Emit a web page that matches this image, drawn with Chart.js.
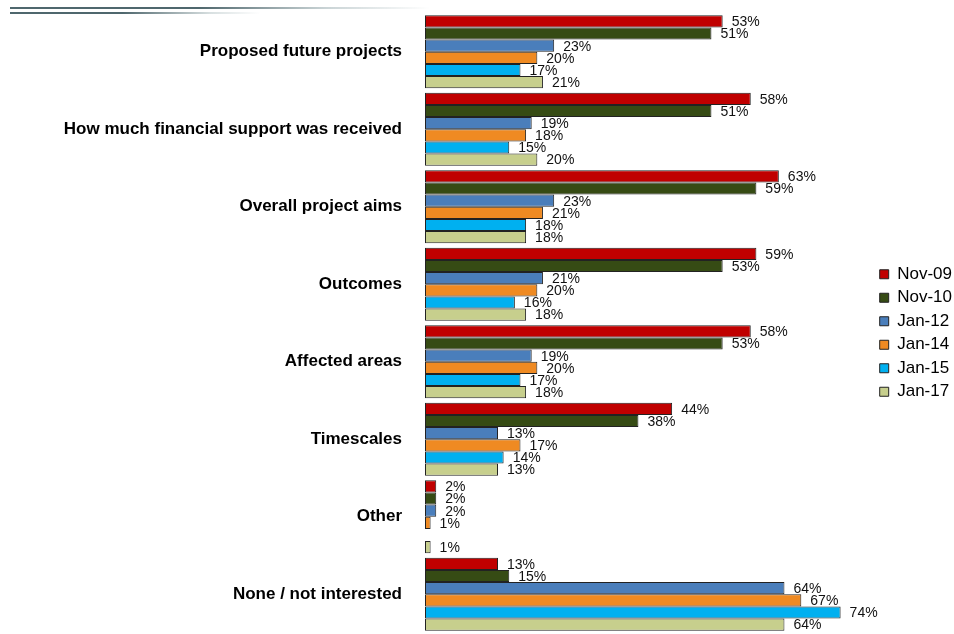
<!DOCTYPE html>
<html>
<head>
<meta charset="utf-8">
<script src="https://cdn.jsdelivr.net/npm/chart.js@4"></script>
<style>
  html, body { margin: 0; padding: 0; background: #fff; }
  #wrap { position: relative; width: 954px; height: 634px; }
  canvas { display: block; }
  .rule { position: absolute; left: 10px; height: 2px; }
  #rule1 { top: 7px; width: 420px; background: linear-gradient(to right, #4f676d 0%, #4f676d 45%, #c9d3d5 75%, rgba(255,255,255,0) 100%); }
  #rule2 { top: 12px; width: 250px; background: linear-gradient(to right, #4f676d 0%, #4f676d 45%, #d7dfe0 80%, rgba(255,255,255,0) 100%); }
</style>
</head>
<body>
<div id="wrap">
  <canvas id="chart" width="954" height="634"></canvas>
  <div class="rule" id="rule1"></div>
  <div class="rule" id="rule2"></div>
</div>
<script>
const categories = [
    "Proposed future projects",
    "How much financial support was received",
    "Overall project aims",
    "Outcomes",
    "Affected areas",
    "Timescales",
    "Other",
    "None / not interested"
];
const nov09 = [53, 58, 63, 59, 58, 44, 2, 13];
const nov10 = [51, 51, 59, 53, 53, 38, 2, 15];
const jan12 = [23, 19, 23, 21, 19, 13, 2, 64];
const jan14 = [20, 18, 21, 20, 20, 17, 1, 67];
const jan15 = [17, 15, 18, 16, 17, 14, null, 74];
const jan17 = [21, 20, 18, 18, 18, 13, 1, 64];

const seriesNames = ["Nov-09", "Nov-10", "Jan-12", "Jan-14", "Jan-15", "Jan-17"];
const seriesColors = ["#c00000", "#364b14", "#4a7ebb", "#ef8a22", "#00b0f0", "#c7cf8d"];
const seriesData = [nov09, nov10, jan12, jan14, jan15, jan17];

const FONT = "'Liberation Sans', Arial, sans-serif";

// draws the "53%" style labels next to each bar
const valueLabels = {
    id: "valueLabels",
    afterDatasetsDraw(chart) {
        const ctx = chart.ctx;
        ctx.save();
        ctx.font = "14px " + FONT;
        ctx.fillStyle = "#111";
        ctx.textAlign = "left";
        ctx.textBaseline = "middle";
        chart.data.datasets.forEach((ds, i) => {
            const meta = chart.getDatasetMeta(i);
            meta.data.forEach((bar, j) => {
                const v = ds.data[j];
                if (v === null || v === undefined) return;
                ctx.fillText(v + "%", bar.x + 9, bar.y + 1);
            });
        });
        ctx.restore();
    }
};

new Chart("chart", {
    type: "bar",
    data: {
        labels: categories,
        datasets: seriesNames.map((name, i) => ({
            label: name,
            data: seriesData[i],
            backgroundColor: seriesColors[i],
            borderColor: "#222",
            borderWidth: 1,
            borderSkipped: false,
            barPercentage: 1.0,
            categoryPercentage: 0.94
        }))
    },
    options: {
        indexAxis: "y",
        responsive: false,
        animation: false,
        layout: {padding: {top: 13, bottom: 1, left: 0, right: -8}},
        scales: {
            x: {
                display: false,
                min: 0,
                max: 79.8
            },
            y: {
                grid: {display: false},
                border: {display: false},
                ticks: {
                    color: "#000",
                    padding: 15,
                    font: {family: FONT, size: 17, weight: "bold"}
                },
                afterFit: (scale) => {
                    scale.width = 425;
                    scale.paddingTop = 0;
                    scale.paddingBottom = 0;
                }
            }
        },
        plugins: {
            legend: {
                position: "right",
                // empty title just pushes the items down a bit
                title: {display: true, text: " ", padding: 4, font: {size: 10}},
                labels: {
                    boxWidth: 9,
                    boxHeight: 9,
                    padding: 6.5,
                    color: "#000",
                    font: {family: FONT, size: 17}
                }
            },
            tooltip: {enabled: false}
        }
    },
    plugins: [valueLabels]
});
</script>
</body>
</html>
